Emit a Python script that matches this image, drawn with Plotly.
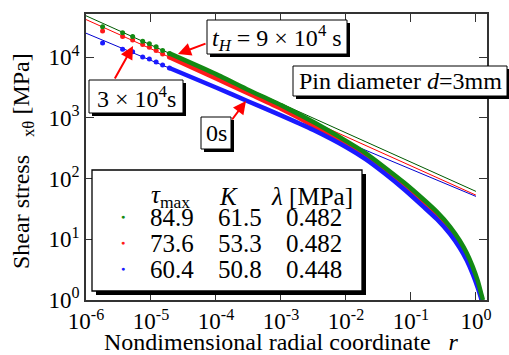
import plotly.graph_objects as go

# ---------------- data ----------------
# fitted power law  tau = K * r^(-lambda)   (legend table)
series = ["tH=9e4s", "3e4s", "0s"]
tau_max = [84.9, 73.6, 60.4]
K = [61.5, 53.3, 50.8]
lam = [0.482, 0.482, 0.448]
r_fit = [1e-6, 1.0]

# sparse grid points near the centre
r_sparse = [1.80e-6, 3.66e-6, 5.22e-6, 7.45e-6, 9.44e-6, 1.20e-5, 1.51e-5, 1.92e-5]
tau_sparse_green = [31600, 25100, 21900, 18200, 16600, 14800, 12900, 11500]
tau_sparse_red = [26900, 21900, 19100, 16200, 14500, 12900, 11200, 10000]
tau_sparse_blue = [17000, 13500, 12300, 10000, 9330, 8320, 7410, 6610]

# dense part of the computed distribution (reads along the band)
r_band = [1.92e-5, 1e-4, 3.16e-4, 1e-3, 3.16e-3, 1e-2, 2e-2, 4e-2, 7.9e-2,
          0.158, 0.251, 0.398, 0.562, 0.724, 0.891, 1.07]
tau_band_green = [11500, 5250, 2880, 1620, 851, 417, 263, 151, 85.1,
                  44.7, 28.2, 16.2, 9.55, 5.89, 3.55, 2.04]
tau_band_red = [10000, 4470, 2510, 1410, 741, 363, 234, 135, 74.1,
                38.0, 24.0, 13.8, 8.13, 5.01, 3.02, 1.78]
tau_band_blue = [6610, 3160, 1860, 1100, 631, 331, 209, 120, 66.1,
                 33.9, 21.4, 12.3, 7.24, 4.47, 2.69, 1.58]
r_tail_green = [1.20, 1.28]
r_tail_red = [1.19, 1.245]
r_tail_blue = [1.175, 1.22]
tau_tail_green = [1.29, 1.0]
tau_tail_red = [1.20, 1.0]
tau_tail_blue = [1.15, 1.0]

x_tickvals = [1e-6, 1e-5, 1e-4, 1e-3, 1e-2, 1e-1, 1e0]
x_ticktext = ["10<sup>-6</sup>", "10<sup>-5</sup>", "10<sup>-4</sup>", "10<sup>-3</sup>",
              "10<sup>-2</sup>", "10<sup>-1</sup>", "10<sup>0</sup>"]
y_tickvals = [1, 10, 100, 1000, 10000]
y_ticktext = ["10<sup>0</sup>", "10<sup>1</sup>", "10<sup>2</sup>", "10<sup>3</sup>", "10<sup>4</sup>"]

# ---------------- styling ----------------
FONT = "Liberation Serif, Times New Roman, Times, DejaVu Serif, serif"
mark_col = ["#138a13", "#ff1a1a", "#1a1aff"]
line_col = ["#005a00", "#ff0000", "#0000d0"]

W, H = 509, 355
L, R, T, B = 86, 22, 14, 55
PW, PH = W - L - R, H - T - B


def PX(x):
    return (x - L) / PW


def PY(y):
    return (H - B - y) / PH


fig = go.Figure()

# fitted lines (under the data)
for i in range(3):
    fig.add_trace(go.Scatter(x=r_fit, y=[K[i] * r ** (-lam[i]) for r in r_fit],
                             mode="lines", line=dict(color=line_col[i], width=1),
                             showlegend=False, hoverinfo="skip"))

sp = [tau_sparse_green, tau_sparse_red, tau_sparse_blue]
bd = [tau_band_green, tau_band_red, tau_band_blue]
rt = [r_tail_green, r_tail_red, r_tail_blue]
tt = [tau_tail_green, tau_tail_red, tau_tail_blue]
for i in [1, 2, 0]:
    fig.add_trace(go.Scatter(x=r_sparse, y=sp[i], mode="markers",
                             marker=dict(color=mark_col[i], size=5, line=dict(width=0)),
                             showlegend=False))
    fig.add_trace(go.Scatter(x=r_band + rt[i], y=bd[i] + tt[i], mode="lines",
                             line=dict(color=mark_col[i], width=4.5, shape="spline", smoothing=0.5),
                             showlegend=False))

shapes = []


def box(x0, y0, x1, y1, s, lw=1):
    shapes.append(dict(type="rect", xref="paper", yref="paper", layer="above",
                       x0=PX(x0 + s), x1=PX(x1 + s), y0=PY(y1 + s), y1=PY(y0 + s),
                       fillcolor="black", line=dict(width=0)))
    shapes.append(dict(type="rect", xref="paper", yref="paper", layer="above",
                       x0=PX(x0), x1=PX(x1), y0=PY(y1), y1=PY(y0),
                       fillcolor="white", line=dict(color="black", width=lw)))


box(207, 20, 347, 54, 3)
box(89, 80, 183, 113, 3)
box(201, 117, 231, 149, 3)
box(293, 66, 507, 96, 3)
box(92, 170, 362, 291, 4, 1.3)

ann = []


def text(x, y, s, size=24, color="black", angle=0):
    ann.append(dict(x=PX(x), y=PY(y), xref="paper", yref="paper", text=s, showarrow=False,
                    xanchor="center", yanchor="middle", textangle=angle,
                    font=dict(family=FONT, size=size, color=color)))


def arrow(tx, ty, sx, sy):
    ann.append(dict(x=PX(tx), y=PY(ty), xref="paper", yref="paper", text="", showarrow=True,
                    ax=sx - tx, ay=sy - ty, arrowhead=2, arrowsize=1.3, arrowwidth=2,
                    arrowcolor="red", standoff=0))


text(277, 38, "<i>t</i><sub><i>H</i></sub> = 9 × 10<sup>4</sup> s")
text(136, 97, "3 × 10<sup>4</sup>s")
text(216, 133, "0s")
text(400, 81, "Pin diameter <i>d</i>=3mm")
arrow(178, 54, 207, 43)
arrow(133, 46, 114, 80)
arrow(246, 101, 231, 121)

# legend table
text(170, 196, "<i>τ</i><sub>max</sub>", size=25)
text(228, 196, "<i>K</i>", size=25)
text(312, 196, "<i>λ</i> [MPa]", size=25)
rows_y = [217, 243, 269]
for i in range(3):
    text(123, rows_y[i], "●", size=7, color=mark_col[i])
    text(172, rows_y[i], f"{tau_max[i]:.1f}", size=25)
    text(240, rows_y[i], f"{K[i]:.1f}", size=25)
    text(314, rows_y[i], f"{lam[i]:.3f}", size=25)

# axis titles
text(281, 342, "Nondimensional radial coordinate\u00a0\u00a0\u00a0<i>r</i>", size=24)
text(23, 161, "Shear stress\u00a0\u00a0\u00a0<sub>xθ</sub>\u00a0[MPa]", size=24, angle=-90)

axis_common = dict(type="log", showline=True, linecolor="#333333", linewidth=1.5,
                   mirror="ticks", ticks="inside", ticklen=8, tickwidth=1.2, tickcolor="#333333",
                   showgrid=False, zeroline=False,
                   tickfont=dict(family=FONT, size=23, color="black"))

fig.update_layout(
    width=W, height=H, margin=dict(l=L, r=R, t=T, b=B),
    paper_bgcolor="white", plot_bgcolor="white",
    font=dict(family=FONT, color="black"),
    xaxis=dict(range=[-6, 0.17], tickvals=x_tickvals, ticktext=x_ticktext, **axis_common),
    yaxis=dict(range=[0, 4.71], tickvals=y_tickvals, ticktext=y_ticktext, **axis_common),
    shapes=shapes, annotations=ann, showlegend=False,
)

fig.write_html("out.html")
